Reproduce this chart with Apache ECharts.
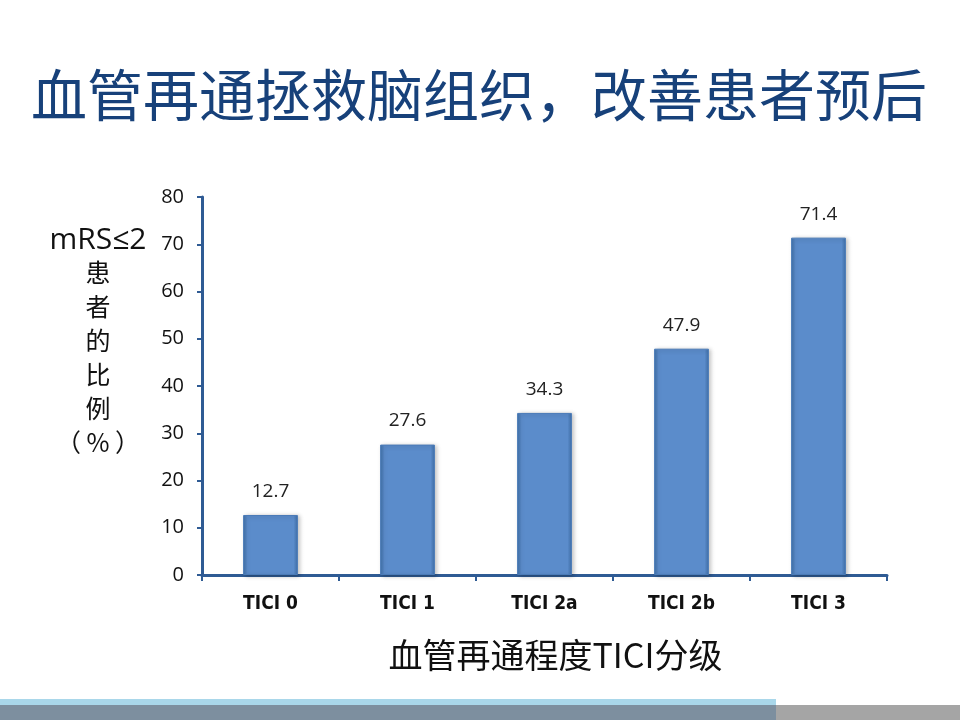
<!DOCTYPE html>
<html lang="zh-CN">
  <head>
    <meta charset="UTF-8" />
    <title>血管再通拯救脑组织</title>
    <script src="https://cdn.jsdelivr.net/npm/echarts@6/dist/echarts.min.js"></script>
    <style>
      html, body { margin: 0; padding: 0; background: #fff; }
      #chart { width: 960px; height: 720px; }
    </style>
  </head>
  <body>
    <div id="chart"></div>
    <script>
      const categories = ["TICI 0", "TICI 1", "TICI 2a", "TICI 2b", "TICI 3"];
      const ratios = [12.7, 27.6, 34.3, 47.9, 71.4];
      const yLabelLines = ["患", "者", "的", "比", "例", "（ % ）"];

      const chart = echarts.init(document.getElementById("chart"));
      const cjk = '"Noto Sans CJK SC", sans-serif';
      const axisBlue = "#2f5b94";

      chart.setOption({
        backgroundColor: "#fff",
        title: {
          text: "血管再通拯救脑组织，改善患者预后",
          left: 26,
          top: 62,
          textStyle: { fontFamily: cjk, fontSize: 56, fontWeight: "normal", color: "#17417a" },
        },
        grid: { left: 202, right: 73, top: 197, bottom: 145 },
        xAxis: {
          type: "category",
          data: categories,
          name: "血管再通程度TICI分级",
          nameLocation: "middle",
          nameGap: 63,
          nameTextStyle: { fontFamily: cjk, fontSize: 34, color: "#111", padding: [0, 0, 0, 22] },
          axisLine: { lineStyle: { color: axisBlue, width: 3 } },
          axisTick: { show: true, length: 6, lineStyle: { color: axisBlue, width: 2 } },
          axisLabel: {
            margin: 20,
            fontFamily: '"DejaVu Sans Condensed", "DejaVu Sans", sans-serif',
            fontWeight: "bold",
            fontSize: 19,
            color: "#111",
          },
        },
        yAxis: {
          type: "value",
          min: 0,
          max: 80,
          interval: 10,
          splitLine: { show: false },
          axisLine: { show: true, lineStyle: { color: axisBlue, width: 3 } },
          axisTick: { show: true, length: 5, lineStyle: { color: axisBlue, width: 2 } },
          axisLabel: { margin: 18, fontFamily: '"Open Sans", sans-serif', fontSize: 20, color: "#111" },
        },
        graphic: [
          {
            type: "text",
            x: 98,
            y: 240,
            style: {
              text: "mRS≤2",
              font: '30px "Open Sans", sans-serif',
              align: "center",
              verticalAlign: "middle",
              fill: "#111",
            },
          },
          {
            type: "text",
            x: 98,
            y: 255,
            style: {
              text: yLabelLines.join("\n"),
              font: '25px "Noto Sans CJK SC", sans-serif',
              lineHeight: 34,
              align: "center",
              verticalAlign: "top",
              fill: "#111",
            },
          },
          {
            type: "rect",
            shape: { x: 0, y: 699, width: 776, height: 6 },
            style: { fill: "#a9d7ea" },
          },
          {
            type: "rect",
            shape: { x: 0, y: 705, width: 776, height: 15 },
            style: { fill: "#7d8f9f" },
          },
          {
            type: "rect",
            shape: { x: 776, y: 705, width: 184, height: 15 },
            style: { fill: "#a5a5a5" },
          },
        ],
        series: [
          {
            type: "bar",
            data: ratios,
            barWidth: "40%",
            itemStyle: {
              color: new echarts.graphic.LinearGradient(0, 0, 1, 0, [
                { offset: 0, color: "#3f6fa8" },
                { offset: 0.08, color: "#5b8ccb" },
                { offset: 0.92, color: "#5b8ccb" },
                { offset: 1, color: "#3f6fa8" },
              ]),
              borderColor: "#4a7bb8",
              borderWidth: 1,
              shadowColor: "rgba(0,0,0,0.25)",
              shadowBlur: 4,
              shadowOffsetX: 2,
              shadowOffsetY: 1,
            },
            label: {
              show: true,
              position: "top",
              distance: 14,
              fontFamily: '"Open Sans", sans-serif',
              fontSize: 19,
              color: "#222",
            },
          },
        ],
      });
    </script>
  </body>
</html>
